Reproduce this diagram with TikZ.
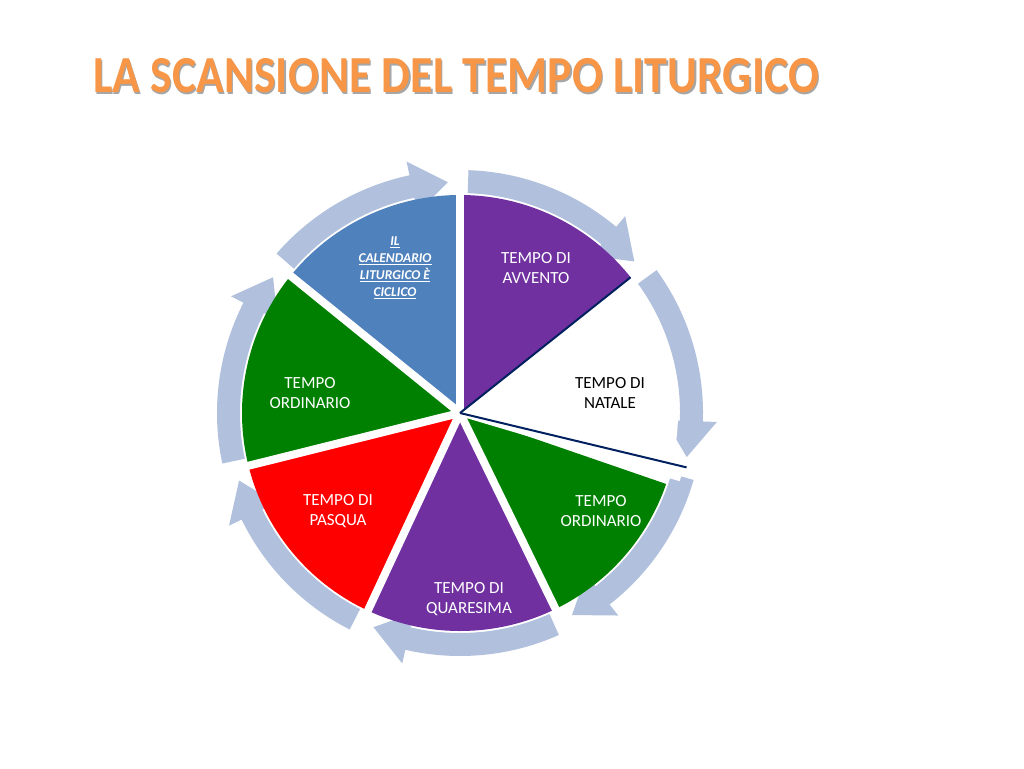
\documentclass[tikz,border=0pt]{standalone}
\usepackage{fontspec}
\setmainfont{Carlito}
\definecolor{ringc}{HTML}{B1C1DD}
\definecolor{bl}{HTML}{4F81BD}
\definecolor{pu}{HTML}{7030A0}
\definecolor{gr}{HTML}{008000}
\definecolor{navy}{HTML}{002060}
\definecolor{ttl}{HTML}{F79646}
\begin{document}
\begin{tikzpicture}[x=1pt,y=1pt,
  lbl/.style={text=white,align=center,font=\fontsize{17}{20}\selectfont},
  gap/.style={white,line width=8pt}]
\useasboundingbox (0,0) rectangle (1024,-768);
\fill[white] (0,0) rectangle (1024,-768);
% title
\node[text=black!35,xscale=0.88,font=\fontsize{52}{56}\bfseries\selectfont] at (457.5,-77.5) {LA SCANSIONE DEL TEMPO LITURGICO};
\node (title) [text=ttl,xscale=0.88,font=\fontsize{52}{56}\bfseries\selectfont] at (456,-76) {LA SCANSIONE DEL TEMPO LITURGICO};
\begin{scope}[shift={(460,-413)}]
% ring arrows
\foreach \s/\t in {88/41,36/-11,-16/-61,-66/-112,-117/-163,192/144,139/93}{
  \pgfmathsetmacro\b{\t+9}
  \fill[ringc] (\s:243) arc[start angle=\s,end angle=\b,radius=243] -- (\b:257) -- (\t:231) -- (\b:205) -- (\b:220) arc[start angle=\b,end angle=\s,radius=220] -- cycle;
}
% sectors
\foreach \a/\b/\c in {90/141/bl,38.5/90/pu,-14/38.5/white,-64/-19/gr,-115/-64/pu,-166/-115/red,141/194/gr}{
  \fill[\c] (0,0) -- (\a:218) arc[start angle=\a,end angle=\b,radius=218] -- cycle;
}
\foreach \a in {90,141,194,245,296}{ \draw[gap] (0,0) -- (\a:230); }
\draw[white,line width=6pt] (0,0) -- (-16.5:230);
\draw[navy,line width=2pt] (0,0) -- (38.5:218);
\draw[navy,line width=2pt] (0,0) -- (-13.5:233);
\end{scope}
\node (cal) [text=white,align=center,font=\fontsize{13.5}{17}\bfseries\itshape\selectfont] at (395,-268) {\underline{IL}\\\underline{CALENDARIO}\\\underline{LITURGICO È}\\\underline{CICLICO}};
\node (avv) [lbl] at (536,-268) {TEMPO DI\\AVVENTO};
\node (nat) [lbl,text=black] at (610,-393) {TEMPO DI\\NATALE};
\node (ord1) [lbl] at (601,-511) {TEMPO\\ORDINARIO};
\node (qua) [lbl] at (469,-599) {TEMPO DI\\QUARESIMA};
\node (pas) [lbl] at (338,-511) {TEMPO DI\\PASQUA};
\node (ord2) [lbl] at (310,-393) {TEMPO\\ORDINARIO};
\end{tikzpicture}
\end{document}
